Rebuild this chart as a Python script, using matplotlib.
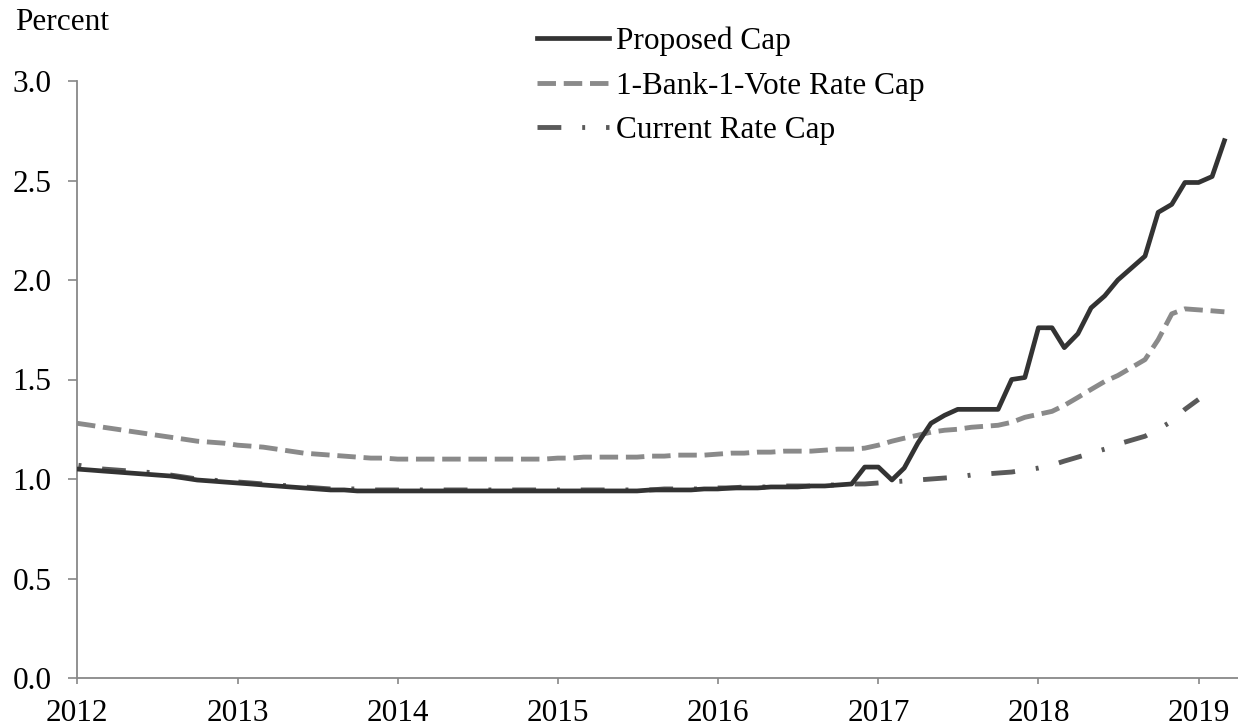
import matplotlib.pyplot as plt
from matplotlib.lines import Line2D
import pandas as pd

plt.rcParams['font.family'] = ['Liberation Serif', 'DejaVu Serif']

# monthly observations, Jan 2012 onward
months = pd.date_range('2012-01-01', '2019-03-01', freq='MS')

proposed = [1.05, 1.045, 1.04, 1.035, 1.03, 1.025, 1.02, 1.015, 1.005, 0.995, 0.99, 0.985,
            0.98, 0.975, 0.97, 0.965, 0.96, 0.955, 0.95, 0.945, 0.945, 0.94, 0.94, 0.94,
            0.94, 0.94, 0.94, 0.94, 0.94, 0.94, 0.94, 0.94, 0.94, 0.94, 0.94, 0.94,
            0.94, 0.94, 0.94, 0.94, 0.94, 0.94, 0.94, 0.945, 0.945, 0.945, 0.945, 0.95,
            0.95, 0.955, 0.955, 0.955, 0.96, 0.96, 0.96, 0.965, 0.965, 0.97, 0.975, 1.06,
            1.06, 0.995, 1.055, 1.18, 1.28, 1.32, 1.35, 1.35, 1.35, 1.35, 1.50, 1.51,
            1.76, 1.76, 1.66, 1.73, 1.86, 1.92, 2.00, 2.06, 2.12, 2.34, 2.38, 2.49,
            2.49, 2.52, 2.70]

one_bank = [1.28, 1.27, 1.26, 1.25, 1.24, 1.23, 1.22, 1.21, 1.20, 1.19, 1.185, 1.18,
            1.17, 1.165, 1.16, 1.15, 1.14, 1.13, 1.125, 1.12, 1.115, 1.11, 1.105, 1.105,
            1.10, 1.10, 1.10, 1.10, 1.10, 1.10, 1.10, 1.10, 1.10, 1.10, 1.10, 1.10,
            1.105, 1.105, 1.11, 1.11, 1.11, 1.11, 1.11, 1.115, 1.115, 1.12, 1.12, 1.12,
            1.125, 1.13, 1.13, 1.135, 1.135, 1.14, 1.14, 1.14, 1.145, 1.15, 1.15, 1.155,
            1.17, 1.19, 1.205, 1.22, 1.235, 1.245, 1.25, 1.26, 1.265, 1.27, 1.285, 1.31,
            1.325, 1.34, 1.37, 1.41, 1.45, 1.49, 1.52, 1.56, 1.60, 1.70, 1.83, 1.855,
            1.85, 1.845, 1.84]

current = [1.07, 1.06, 1.05, 1.045, 1.04, 1.035, 1.03, 1.02, 1.01, 1.00, 0.995, 0.99,
           0.985, 0.98, 0.975, 0.97, 0.965, 0.96, 0.955, 0.95, 0.95, 0.95, 0.945, 0.945,
           0.945, 0.945, 0.945, 0.945, 0.945, 0.945, 0.945, 0.945, 0.945, 0.945, 0.945, 0.945,
           0.945, 0.945, 0.945, 0.945, 0.945, 0.945, 0.945, 0.945, 0.95, 0.95, 0.95, 0.95,
           0.955, 0.955, 0.96, 0.96, 0.96, 0.965, 0.965, 0.965, 0.97, 0.97, 0.975, 0.975,
           0.98, 0.985, 0.99, 0.995, 1.0, 1.005, 1.01, 1.02, 1.025, 1.03, 1.035, 1.045,
           1.055, 1.07, 1.09, 1.11, 1.13, 1.15, 1.175, 1.195, 1.215, 1.25, 1.29, 1.35,
           1.40]

labels = ['Proposed Cap', '1-Bank-1-Vote Rate Cap', 'Current Rate Cap']
dashdot = (4.9, 4.3, 0.6, 4.3)

fig = plt.figure(figsize=(12.38, 7.27), dpi=100)
ax = fig.add_axes([77 / 1238, 49 / 727, 1161 / 1238, 597 / 727])

ax.plot(months, proposed, color='#333333', lw=3.4, solid_joinstyle='round', zorder=3)
ax.plot(months, one_bank, color='#8a8a8a', lw=3.5, dashes=(3.8, 1.6), zorder=2)
ax.plot(months[:len(current)], current, color='#5a5a5a', lw=3.5,
        linestyle=(8.9, dashdot), zorder=2)

ax.set_ylim(0, 3.0)
ax.set_yticks([0, 0.5, 1.0, 1.5, 2.0, 2.5, 3.0])
ax.set_yticklabels(['0.0', '0.5', '1.0', '1.5', '2.0', '2.5', '3.0'])
years = pd.date_range('2012-01-01', '2019-01-01', freq='YS')
ax.set_xticks(years)
ax.set_xticklabels([str(y.year) for y in years])
ax.set_xlim(pd.Timestamp('2012-01-01'), pd.Timestamp('2019-04-01'))

for s in ['top', 'right']:
    ax.spines[s].set_visible(False)
for s in ['left', 'bottom']:
    ax.spines[s].set_color('#888888')
    ax.spines[s].set_linewidth(1.3)
ax.tick_params(axis='both', colors='#888888', labelcolor='black', labelsize=22.5,
               width=1.2, direction='out')
ax.tick_params(axis='x', length=4.5, pad=10.5)
ax.tick_params(axis='y', length=6.5, pad=12)

fig.text(15 / 1238, 1 - 30 / 727, 'Percent', fontsize=22.5, va='baseline')

handles = [Line2D([], [], color='#333333', lw=3.4),
           Line2D([], [], color='#8a8a8a', lw=3.5, dashes=(3.8, 1.6)),
           Line2D([], [], color='#5a5a5a', lw=3.5, dashes=dashdot)]
ax.legend(handles, labels, loc='upper left', bbox_to_anchor=(0.421, 0.985),
          bbox_transform=fig.transFigure, frameon=False, fontsize=22.5,
          handlelength=2.3, handletextpad=0.22, labelspacing=0.5, borderpad=0)

fig.savefig('out.png', dpi=100)
